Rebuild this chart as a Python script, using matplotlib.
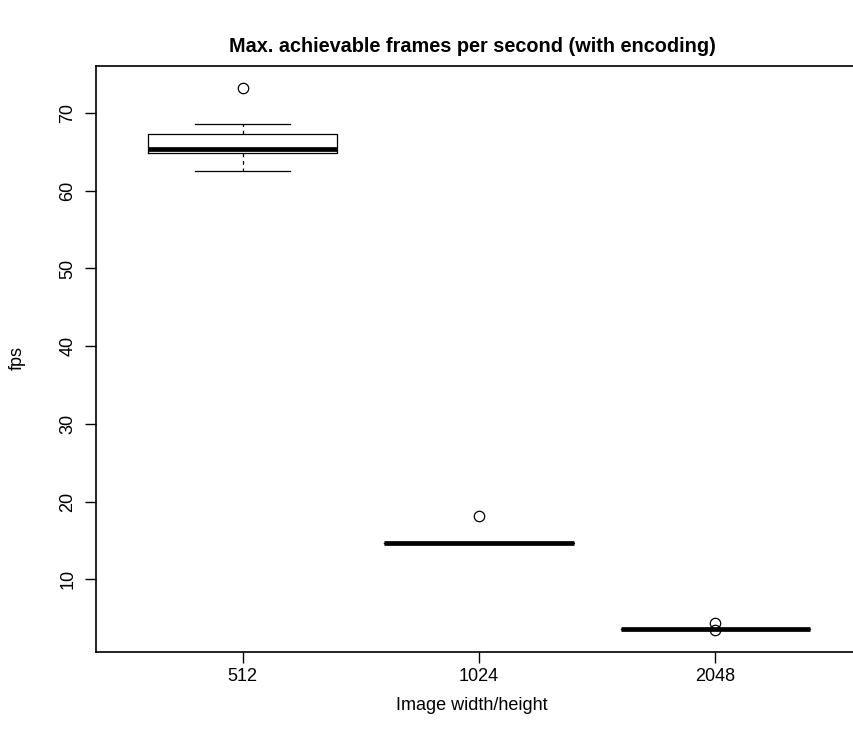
import matplotlib
matplotlib.use("Agg")
import matplotlib.pyplot as plt

plt.rcParams['font.family'] = ['Liberation Sans', 'DejaVu Sans']

# Frame rate summary per image size (five-number summary + outliers)
categories = ["512", "1024", "2048"]
whisker_low = [62.6, 14.7, 3.6]
q1 = [64.8, 14.7, 3.6]
median = [65.4, 14.7, 3.6]
q3 = [67.3, 14.7, 3.6]
whisker_high = [68.6, 14.7, 3.6]
outliers = [[73.2], [18.1], [4.4, 3.5]]
y_ticks = [10, 20, 30, 40, 50, 60, 70]

W, H = 854, 742
fig = plt.figure(figsize=(W / 100, H / 100), dpi=100)
left, right, top, bottom = 96, 862, 65.7, 651.7
ax = fig.add_axes([left / W, 1 - bottom / H, (right - left) / W, (bottom - top) / H])

stats = []
for i, name in enumerate(categories):
    stats.append(dict(label=name, whislo=whisker_low[i], q1=q1[i], med=median[i],
                      q3=q3[i], whishi=whisker_high[i], fliers=outliers[i]))

positions = list(range(1, len(categories) + 1))
ax.bxp(stats, positions=positions, widths=0.8, showfliers=True,
       boxprops=dict(color='black', linewidth=0.9),
       whiskerprops=dict(color='black', linewidth=0.9, linestyle=(0, (3, 3))),
       capprops=dict(color='black', linewidth=0.9),
       capwidths=0.4,
       medianprops=dict(color='black', linewidth=3.4, solid_capstyle='butt'),
       flierprops=dict(marker='o', markerfacecolor='none', markeredgecolor='black',
                       markersize=7.5, markeredgewidth=0.9))

ax.set_xlim(0.38, 3.62)
ax.set_ylim(0.67, 76.1)
ax.set_xticks(positions)
ax.set_xticklabels(categories, fontsize=13)
ax.set_yticks(y_ticks)
ax.set_yticklabels([str(v) for v in y_ticks], fontsize=13, rotation=90, va='center')
ax.tick_params(axis='both', direction='out', length=8, width=1.0, color='black', pad=4)
ax.tick_params(axis='y', pad=6)
for s in ax.spines.values():
    s.set_linewidth(1.2)
    s.set_color('black')

fig.text(472 / W, 1 - 47 / H, "Max. achievable frames per second (with encoding)",
         ha='center', va='center', fontsize=14.3, fontweight='bold')
fig.text(472 / W, 1 - 705 / H, "Image width/height", ha='center', va='center', fontsize=13)
fig.text(17 / W, 1 - 358 / H, "fps", ha='center', va='center', fontsize=13, rotation=90)

fig.savefig("out.png", dpi=100)
